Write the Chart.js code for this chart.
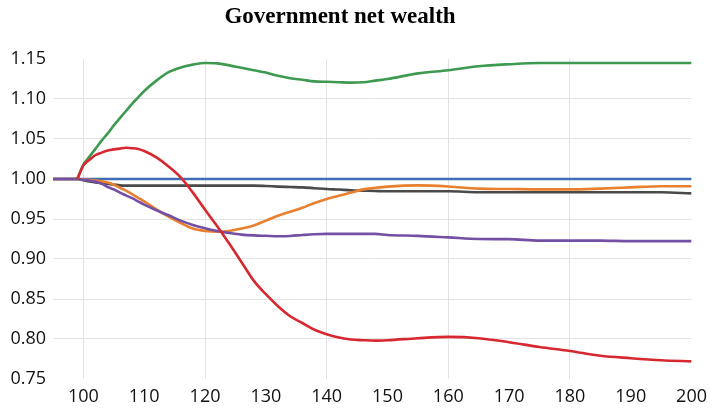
<!DOCTYPE html>
<html>
<head>
<meta charset="utf-8">
<script src="https://cdn.jsdelivr.net/npm/chart.js@4"></script>
<style>
html,body{margin:0;padding:0;background:#fff;}
#wrap{width:714px;height:408px;position:relative;}
</style>
</head>
<body>
<div id="wrap"><canvas id="c" width="714" height="408"></canvas></div>
<script>
const chartTitle = "Government net wealth";
const periods = [95,99,100,101,102,103,104,105,106,107,108,109,110,112,114,116,118,120,122,124,126,128,130,132,134,136,138,140,142,144,146,148,150,155,160,165,170,175,180,185,190,195,200];
const xTicks = [100,110,120,130,140,150,160,170,180,190,200];
const xGridAt = [100,120,140,160,180];
const yTicks = [0.75,0.80,0.85,0.90,0.95,1.00,1.05,1.10,1.15];

const blueSeries = periods.map(() => 1.0);
const orangeSeries = [1,1,0.9995,0.999,0.998,0.997,0.9955,0.993,0.989,0.9855,0.981,0.9765,0.972,0.962,0.953,0.945,0.938,0.935,0.934,0.935,0.938,0.942,0.948,0.954,0.959,0.964,0.970,0.975,0.979,0.983,0.987,0.989,0.9905,0.992,0.9907,0.988,0.9875,0.987,0.987,0.988,0.9895,0.991,0.991];
const greySeries = [1,1,0.9985,0.997,0.9958,0.995,0.994,0.993,0.992,0.9917,0.9917,0.9917,0.9917,0.9917,0.9917,0.9917,0.9917,0.9917,0.9917,0.9917,0.9917,0.9917,0.9912,0.9905,0.990,0.9895,0.9885,0.9875,0.9868,0.986,0.9855,0.985,0.9846,0.9846,0.9846,0.9834,0.9834,0.9834,0.9834,0.9834,0.9834,0.9834,0.982];
const purpleSeries = [1,1,0.999,0.998,0.9965,0.994,0.990,0.987,0.983,0.9795,0.976,0.972,0.968,0.961,0.9546,0.948,0.9425,0.9385,0.935,0.9325,0.9305,0.9295,0.929,0.9285,0.9288,0.930,0.931,0.9314,0.9314,0.9314,0.9314,0.9314,0.930,0.9289,0.927,0.925,0.9248,0.923,0.923,0.923,0.9223,0.9223,0.9223];
const greenSeries = [null,1,1.018,1.028,1.038,1.048,1.057,1.067,1.076,1.085,1.094,1.102,1.110,1.123,1.1336,1.1395,1.143,1.145,1.1445,1.142,1.139,1.136,1.133,1.129,1.126,1.124,1.122,1.1215,1.121,1.1205,1.121,1.123,1.125,1.132,1.136,1.141,1.1435,1.145,1.145,1.145,1.145,1.145,1.145];
const redSeries = [null,1,1.017,1.024,1.030,1.033,1.0355,1.037,1.038,1.039,1.0385,1.0375,1.035,1.027,1.0157,1.002,0.983,0.9616,0.941,0.919,0.896,0.873,0.856,0.841,0.8285,0.820,0.8115,0.806,0.802,0.7993,0.7985,0.798,0.7985,0.801,0.8026,0.801,0.796,0.790,0.785,0.779,0.776,0.7735,0.772];

function pts(vals){ return periods.map((p,i)=>({x:p,y:vals[i]})); }
function ds(vals,color){
  return {data:pts(vals),borderColor:color,backgroundColor:color,borderWidth:2.6,pointRadius:0,fill:false,cubicInterpolationMode:'monotone'};
}

const titlePlugin = {
  id:'manualTitle',
  afterDraw(chart){
    const ctx = chart.ctx;
    ctx.save();
    ctx.font = 'bold 23px "Liberation Serif", "Times New Roman", serif';
    ctx.fillStyle = '#000';
    ctx.textAlign = 'center';
    ctx.textBaseline = 'alphabetic';
    ctx.fillText(chartTitle, 340, 23);
    ctx.restore();
  }
};

const tickFont = {family:'"Open Sans", sans-serif', size:18};

new Chart(document.getElementById('c'), {
  type:'line',
  data:{
    datasets:[
      ds(redSeries,'#D7282F'),
      ds(greenSeries,'#3D9A50'),
      ds(purpleSeries,'#7350A3'),
      ds(orangeSeries,'#E8802F'),
      ds(greySeries,'#4A4A4A'),
      ds(blueSeries,'#3E6DB5')
    ]
  },
  options:{
    responsive:false,
    animation:false,
    devicePixelRatio:1,
    layout:{padding:{top:59,right:17,left:0,bottom:0}},
    plugins:{legend:{display:false},title:{display:false},tooltip:{enabled:false}},
    scales:{
      x:{
        type:'linear',
        min:95,max:200,
        afterBuildTicks(s){ s.ticks = xTicks.map(v=>({value:v})); },
        afterFit(s){ s.height = 29; },
        ticks:{font:tickFont,color:'#111',padding:7,maxRotation:0,autoSkip:false,callback:v=>String(v)},
        grid:{drawTicks:false,color:c=> (c.tick && xGridAt.includes(c.tick.value)) ? '#e3e3e3' : 'rgba(0,0,0,0)',lineWidth:1},
        border:{display:false}
      },
      y:{
        min:0.75,max:1.15,
        afterBuildTicks(s){ s.ticks = yTicks.map(v=>({value:v})); },
        afterFit(s){ s.width = 53; },
        ticks:{font:tickFont,color:'#111',padding:7,callback:v=>Number(v).toFixed(2)},
        grid:{drawTicks:false,color:c=> (c.tick && (Math.abs(c.tick.value-0.75)<1e-6 || Math.abs(c.tick.value-1.15)<1e-6)) ? 'rgba(0,0,0,0)' : '#e3e3e3',lineWidth:1},
        border:{display:false}
      }
    }
  },
  plugins:[titlePlugin]
});
</script>
</body>
</html>
